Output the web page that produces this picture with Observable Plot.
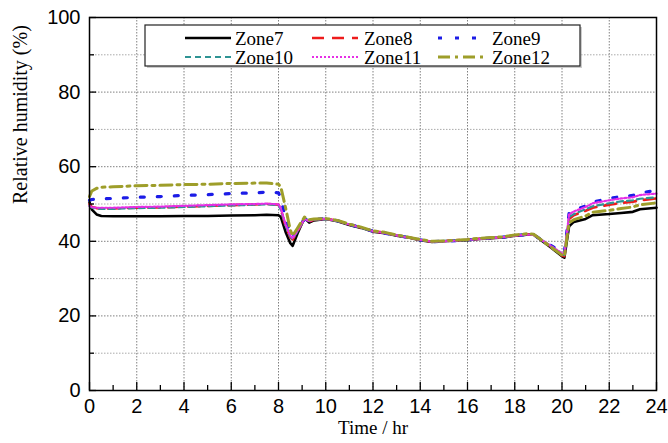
<!DOCTYPE html>
<html><head><meta charset="utf-8">
<script src="https://cdn.jsdelivr.net/npm/d3@7"></script>
<script src="https://cdn.jsdelivr.net/npm/@observablehq/plot@0.6"></script>
<style>
body{margin:0;background:#fff;}
#chart{position:relative;width:668px;height:443px;overflow:hidden;}
#legend{position:absolute;left:0;top:0;}
</style></head><body><div id="chart"></div>
<script>
// ---- data ----
const hours = [0,0.1,0.3,0.5,1,2,3,4,5,6,7,7.5,8,8.1,8.3,8.5,8.6,8.8,9.1,9.3,9.5,10,10.5,11,11.5,12,12.5,13,13.5,14,14.5,15,15.5,16,16.5,17,17.5,18,18.5,18.8,19.5,20,20.1,20.3,20.5,21,21.3,22,22.5,23,23.3,24];
const zone7 = [50.5,48.5,47.2,46.8,46.7, 46.7,46.7,46.8,46.8,46.9, 47.0,47.1,47.0,46.5,42.5, 39.5,38.8,42.0,46.3,45.0, 45.6,46.0,45.4,44.4,43.6, 42.6,42.2,41.5,41.0,40.3, 39.8,40.0,40.2,40.3,40.6, 40.8,41.0,41.5,41.8,41.8, 38.5,36.0,35.6,44.0,45.2, 46.0,47.0,47.3,47.6,47.9, 48.6,49.0];
const zone8 = [50.0,49.2,48.9,48.8,48.8, 49.0,49.1,49.3,49.5,49.7, 49.9,50.0,49.8,48.5,44.0, 41.0,40.5,42.5,46.2,45.3, 45.8,46.0,45.5,44.5,43.7, 42.7,42.3,41.6,41.1,40.4, 39.9,40.1,40.3,40.4,40.7, 40.9,41.1,41.6,41.9,41.8, 38.7,36.2,36.0,46.0,47.0, 48.2,49.0,49.8,50.3,50.6, 51.0,51.5];
const zone9 = [51.0,51.2,51.3,51.4,51.5, 51.8,52.0,52.3,52.5,52.8, 53.0,53.2,53.0,51.5,46.0, 42.0,41.2,43.0,46.0,45.5, 45.9,46.1,45.5,44.5,43.7, 42.7,42.2,41.6,41.0,40.4, 39.9,40.0,40.2,40.4,40.6, 40.9,41.1,41.5,41.8,41.7, 39.0,37.0,37.0,47.5,48.3, 49.5,50.5,51.5,52.0,52.3, 53.0,53.6];
const zone10 = [49.5,49.0,48.8,48.7,48.7, 48.9,49.0,49.2,49.4,49.6, 49.8,49.9,49.7,48.4,44.2, 41.2,40.6,42.6,46.1,45.4, 45.8,46.0,45.4,44.5,43.6, 42.7,42.3,41.6,41.1,40.4, 39.9,40.1,40.3,40.4,40.7, 40.9,41.1,41.6,41.9,41.8, 38.8,36.4,36.3,46.5,47.3, 48.6,49.4,50.2,50.7,51.0, 51.4,51.8];
const zone11 = [49.5,49.1,49.0,49.0,49.0, 49.2,49.3,49.5,49.7,49.9, 50.0,50.1,49.9,48.8,44.5, 41.5,40.8,42.8,46.0,45.4, 45.9,46.0,45.5,44.5,43.7, 42.7,42.2,41.6,41.0,40.4, 39.9,40.0,40.2,40.4,40.6, 40.9,41.1,41.5,41.8,41.7, 38.9,36.8,36.7,47.2,48.0, 49.2,50.2,51.0,51.5,51.8, 52.4,52.8];
const zone12 = [52.0,53.5,54.2,54.5,54.6, 54.9,55.0,55.2,55.3,55.5, 55.6,55.6,55.3,54.5,49.0, 43.0,41.5,43.5,46.5,45.8, 46.0,46.1,45.6,44.6,43.8, 42.8,42.4,41.7,41.1,40.5, 40.0,40.1,40.3,40.5,40.8, 41.0,41.2,41.7,42.0,41.9, 38.6,36.3,36.1,45.0,45.8, 46.8,47.8,48.3,48.8,49.2, 49.8,50.3];

const zoneNames = ["Zone7","Zone8","Zone9","Zone10","Zone11","Zone12"];
const zoneValues = [zone7, zone8, zone9, zone10, zone11, zone12];

const xTicks = [0,2,4,6,8,10,12,14,16,18,20,22,24];
const xMinorTicks = [1,3,5,7,9,11,13,15,17,19,21,23];
const yTicks = [0,20,40,60,80,100];
const yMinorTicks = [10,30,50,70,90];
const xLabel = "Time / hr";
const yLabel = "Relative humidity (%)";

// ---- styles ----
const styles = [
  {stroke:"#000000", strokeWidth:2.6, dash:null},
  {stroke:"#ee1c1c", strokeWidth:2.6, dash:"12,8"},
  {stroke:"#1c1ce6", strokeWidth:3.2, dash:"4,13"},
  {stroke:"#2e9494", strokeWidth:2.2, dash:"6,4"},
  {stroke:"#e62ee6", strokeWidth:2.2, dash:"2,2"},
  {stroke:"#9e9e2a", strokeWidth:3, dash:"12,5,3,5"}
];
const SERIF = "Liberation Serif";

const tables = zoneValues.map(vals => hours.map((h,i) => ({hour:h, rh:vals[i]})));

const lineMarks = tables.map((t,i) => Plot.line(t, {
  x:"hour", y:"rh", stroke:styles[i].stroke, strokeWidth:styles[i].strokeWidth,
  strokeDasharray:styles[i].dash, strokeLinejoin:"round"
}));

const plot = Plot.plot({
  width:668, height:443,
  marginLeft:89, marginRight:12, marginTop:17, marginBottom:53,
  style:{fontFamily:"Liberation Sans", fontSize:"20px", color:"#000", background:"#fff"},
  x:{domain:[0,24]},
  y:{domain:[0,100]},
  marks:[
    Plot.gridY(yMinorTicks, {stroke:"#aaa", strokeOpacity:1, strokeDasharray:"1.5,1.5"}),
    Plot.gridY(yTicks.filter(v => v > 0 && v < 100), {stroke:"#808080", strokeOpacity:1, strokeDasharray:"1.5,1.5"}),
    Plot.gridX(xTicks.filter(v => v > 0 && v < 24), {stroke:"#808080", strokeOpacity:1, strokeDasharray:"1.5,1.5"}),
    ...lineMarks,
    Plot.frame({stroke:"#000", strokeWidth:1.5}),
    Plot.axisX(xTicks, {tickSize:0, tickPadding:8, fontSize:20, label:null}),
    Plot.axisX(xTicks, {tickSize:-8, text:null, label:null, strokeWidth:1.3}),
    Plot.axisX(xMinorTicks, {tickSize:-5, text:null, label:null, strokeWidth:1.3}),
    Plot.axisY(yTicks, {tickSize:0, tickPadding:9, fontSize:20, label:null}),
    Plot.axisY(yTicks, {tickSize:-7, text:null, label:null, strokeWidth:1.3}),
    Plot.axisY(yMinorTicks, {tickSize:-5, text:null, label:null, strokeWidth:1.3}),
    Plot.text([xLabel], {frameAnchor:"bottom", dy:43, fontFamily:SERIF, fontSize:19, fill:"#000"}),
    Plot.text([yLabel], {frameAnchor:"left", rotate:-90, dx:-69, fontFamily:SERIF, fontSize:20, fill:"#000"})
  ]
});
document.getElementById("chart").appendChild(plot);

// ---- legend overlay ----
const lg = d3.select("#chart").append("svg").attr("id","legend")
  .attr("width",668).attr("height",443);
lg.append("rect").attr("x",147).attr("y",27).attr("width",435).attr("height",41)
  .attr("fill","#999").attr("opacity",0.5);
lg.append("rect").attr("x",145).attr("y",25).attr("width",435).attr("height",41)
  .attr("fill","#fff").attr("stroke","#222").attr("stroke-width",1.2);
const colLine = [185,312,438], colText = [235,364,492], rowY = [38,57];
zoneNames.forEach((name,i) => {
  const c = i % 3, r = Math.floor(i/3), s = styles[i];
  lg.append("line").attr("x1",colLine[c]).attr("x2",colLine[c]+46)
    .attr("y1",rowY[r]).attr("y2",rowY[r])
    .attr("stroke",s.stroke).attr("stroke-width",s.strokeWidth)
    .attr("stroke-dasharray",s.dash);
  lg.append("text").attr("x",colText[c]).attr("y",rowY[r]).attr("dy","0.35em")
    .attr("font-family",SERIF).attr("font-size",19).attr("fill","#000").text(name);
});
</script></body></html>
